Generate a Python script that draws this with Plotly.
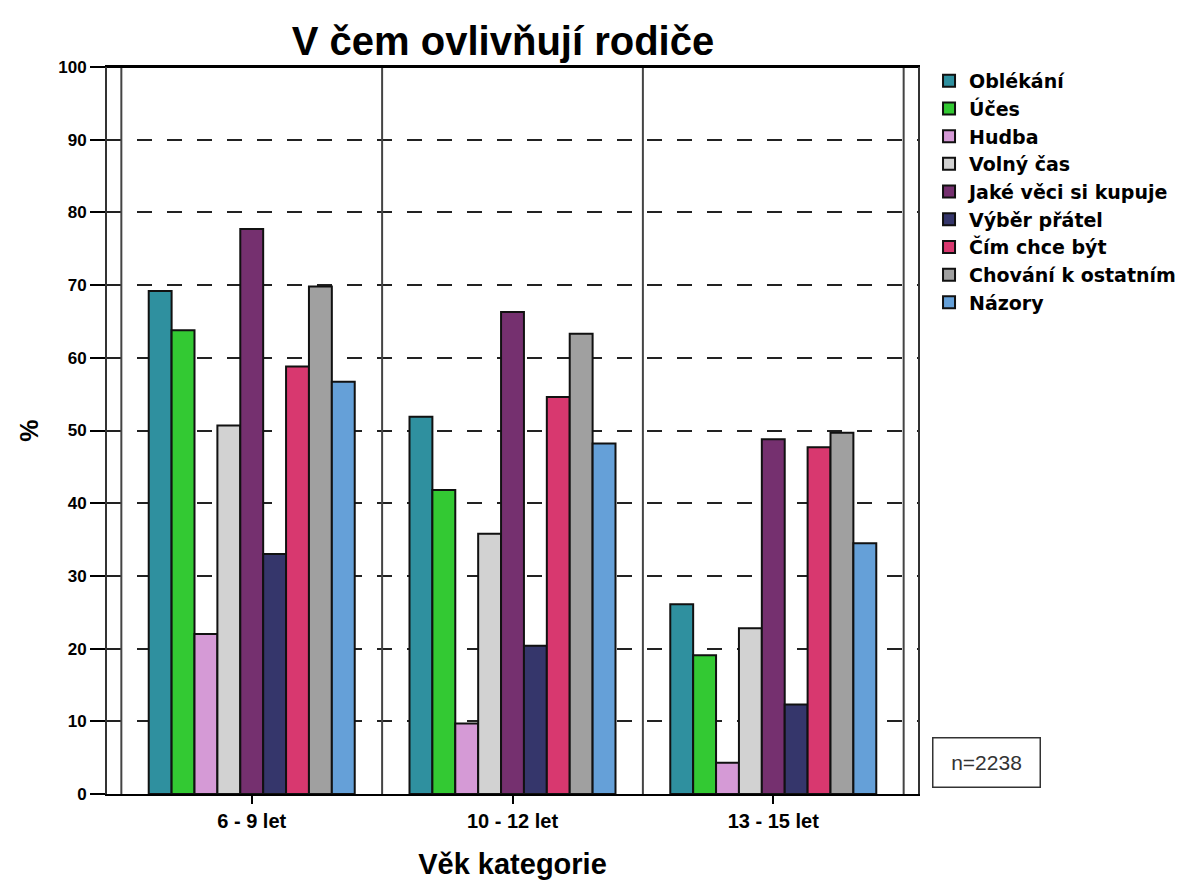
import plotly.graph_objects as go

categories = ["6 - 9 let", "10 - 12 let", "13 - 15 let"]
series_names = ["Oblékání", "Účes", "Hudba", "Volný čas", "Jaké věci si kupuje",
                "Výběr přátel", "Čím chce být", "Chování k ostatním", "Názory"]
oblekani = [69.2, 51.9, 26.1]
uces = [63.8, 41.8, 19.1]
hudba = [22.0, 9.7, 4.3]
volny_cas = [50.7, 35.8, 22.8]
jake_veci = [77.7, 66.3, 48.8]
vyber_pratel = [33.0, 20.4, 12.3]
cim_chce_byt = [58.8, 54.6, 47.7]
chovani = [69.8, 63.3, 49.7]
nazory = [56.7, 48.2, 34.5]
series_values = [oblekani, uces, hudba, volny_cas, jake_veci,
                 vyber_pratel, cim_chce_byt, chovani, nazory]
colors = ["#2f909f", "#33c933", "#d59ad6", "#d2d2d2", "#75306f",
          "#35366b", "#d8386f", "#a0a0a0", "#65a0d8"]
y_ticks = [0, 10, 20, 30, 40, 50, 60, 70, 80, 90, 100]

FONT = "Liberation Sans, Arial, sans-serif"
LEG_FONT = "DejaVu Sans, Verdana, sans-serif"

fig = go.Figure()
for name, vals, col in zip(series_names, series_values, colors):
    fig.add_trace(go.Bar(
        x=categories, y=vals, name=name,
        marker=dict(color=col, line=dict(color="#111111", width=2)),
    ))

# page body adds an 8px offset; figure is sized so the plot area lands at 107..918 x 67..794
fig.update_layout(
    width=1182, height=872,
    paper_bgcolor="white", plot_bgcolor="white",
    margin=dict(l=99, r=272, t=59, b=86, autoexpand=False),
    barmode="group", bargap=0.21, bargroupgap=0,
    font=dict(family=FONT, color="black"),
    title=dict(text="V čem ovlivňují rodiče", x=0.4188, xanchor="center",
               y=0.962, yanchor="middle",
               font=dict(size=40, family=FONT, color="black", weight="bold")),
    legend=dict(x=1.0136, y=1.007, xanchor="left", yanchor="top",
                font=dict(size=19, family=LEG_FONT, color="black", weight="bold"),
                itemwidth=30, bgcolor="rgba(0,0,0,0)"),
    showlegend=True,
)

fig.update_xaxes(
    type="category", range=[-0.555, 2.555],
    showline=True, linecolor="black", linewidth=2, mirror=True,
    ticks="outside", ticklen=8, tickwidth=2, tickcolor="black",
    tickfont=dict(size=20, family=FONT, color="black", weight="bold"),
    title=dict(text="Věk kategorie",
               font=dict(size=29, family=FONT, color="black", weight="bold"),
               standoff=24),
    showgrid=False, zeroline=False, automargin=False,
)
fig.update_yaxes(
    range=[0, 100], tickvals=y_ticks,
    showline=True, linecolor="#333333", linewidth=2, mirror=True,
    ticks="outside", ticklen=15, tickwidth=2, tickcolor="black",
    tickfont=dict(size=17, family=FONT, color="black", weight="bold"),
    showgrid=True, gridcolor="#222222", gridwidth=2, griddash="longdash",
    zeroline=False, automargin=False,
    title=dict(text="%", font=dict(size=25, family=FONT, color="black", weight="bold"),
               standoff=12),
)

# category separator and frame lines
for xv in [-0.5, 0.5, 1.5, 2.5]:
    fig.add_shape(type="line", xref="x", yref="y", x0=xv, x1=xv, y0=0, y1=100,
                  line=dict(color="#444444", width=2), layer="above")
fig.add_shape(type="line", xref="paper", yref="y", x0=0, x1=1, y0=100, y1=100,
              line=dict(color="black", width=2), layer="above")

fig.add_annotation(
    text="n=2238", xref="paper", yref="paper", x=1.084, y=0.044,
    xanchor="center", yanchor="middle", showarrow=False,
    font=dict(size=21, family=FONT, color="#333333"),
    bordercolor="#333333", borderwidth=1.5, borderpad=4,
    width=98, height=40, bgcolor="white",
)

fig.write_html("out.html")
